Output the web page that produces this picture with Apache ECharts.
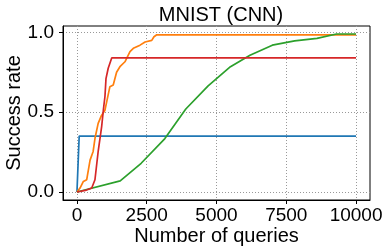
<!DOCTYPE html>
<html><head><meta charset="utf-8">
<script src="https://cdn.jsdelivr.net/npm/echarts@6/dist/echarts.min.js"></script>
<style>html,body{margin:0;padding:0;background:#fff}#c{width:386px;height:251px}</style>
</head><body><div id="c"></div>
<script>
var titleText = 'MNIST (CNN)';
var xName = 'Number of queries';
var yName = 'Success rate';
var xTicks = [0, 2500, 5000, 7500, 10000];
var yTicks = [0, 0.5, 1.0];
var blue = [[0,0],[80,0.35],[10000,0.35]];
var orange = [[0,0],[110,0.025],[230,0.066],[350,0.077],[470,0.2],[580,0.254],[650,0.34],[760,0.43],[880,0.48],[1000,0.51],[1180,0.66],[1300,0.67],[1420,0.75],[1540,0.785],[1720,0.816],[1900,0.88],[2020,0.9],[2260,0.92],[2440,0.94],[2680,0.95],[2760,0.973],[2860,0.985],[10000,0.985]];
var green = [[0,0],[1550,0.07],[2300,0.18],[3150,0.335],[3900,0.52],[4700,0.665],[5500,0.785],[6200,0.857],[7000,0.92],[7800,0.947],[8600,0.962],[9300,0.99],[10000,0.99]];
var red = [[0,0],[300,0.01],[530,0.025],[645,0.077],[764,0.26],[885,0.41],[950,0.52],[1004,0.6],[1040,0.71],[1120,0.775],[1185,0.785],[1245,0.84],[10000,0.84]];

var font = '"Liberation Sans", Arial, sans-serif';
var chart = echarts.init(document.getElementById('c'));
function ser(d, c){return {type:'line', data:d, showSymbol:false, symbol:'none', lineStyle:{color:c, width:1.7}, itemStyle:{color:c}, animation:false};}
chart.setOption({
  animation:false,
  title:{text:titleText, left:216, top:0, textAlign:'center', textStyle:{fontFamily:font, fontSize:20, fontWeight:'normal', color:'#000'}},
  grid:{left:63, right:16, top:26, bottom:51, outerBoundsMode:'none', containLabel:false, show:true, borderColor:'#000', borderWidth:1, backgroundColor:'transparent'},
  xAxis:{type:'value', min:-500, max:10500, interval:500,
    name:xName, nameLocation:'middle', nameGap:26, nameMoveOverlap:false, nameTextStyle:{fontFamily:font, fontSize:20, color:'#000'},
    axisLine:{show:true, onZero:false, lineStyle:{color:'#000', width:1}},
    axisTick:{show:true, customValues:xTicks, length:4, inside:false, lineStyle:{color:'#000'}},
    axisLabel:{customValues:xTicks, margin:6, fontFamily:font, fontSize:19, color:'#000', formatter:function(v){return String(v);}},
    splitLine:{show:true, lineStyle:{color:'#999', type:[1,2], width:1}}},
  yAxis:{type:'value', min:-0.05, max:1.04, interval:0.01,
    name:yName, nameLocation:'middle', nameGap:39, nameMoveOverlap:false, nameRotate:90, nameTextStyle:{fontFamily:font, fontSize:20, color:'#000'},
    axisLine:{show:true, onZero:false, lineStyle:{color:'#000', width:1}},
    axisTick:{show:true, customValues:yTicks, length:4, lineStyle:{color:'#000'}},
    axisLabel:{customValues:yTicks, margin:9, fontFamily:font, fontSize:19, color:'#000', formatter:function(v){return v.toFixed(1);}},
    splitLine:{show:true, lineStyle:{color:'#999', type:[1,2], width:1}}},
  series:[ser(blue,'#1f77b4'), ser(orange,'#ff7f0e'), ser(green,'#2ca02c'), ser(red,'#d62728')]
});
</script></body></html>
